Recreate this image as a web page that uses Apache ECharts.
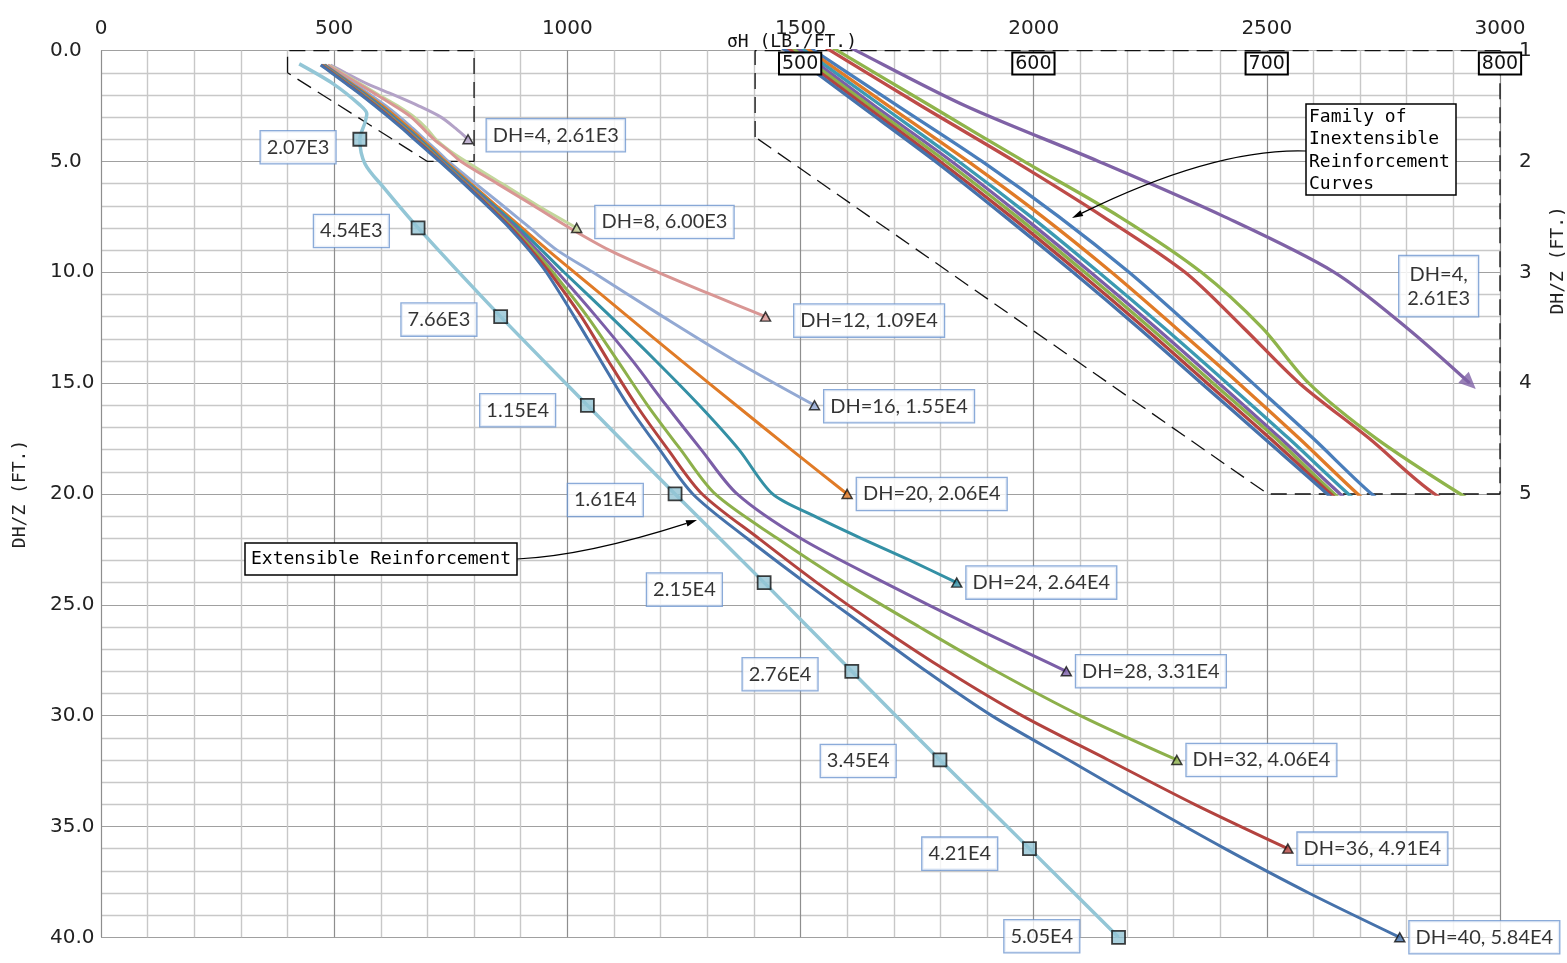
<!DOCTYPE html>
<html><head><meta charset="utf-8">
<script src="https://cdn.jsdelivr.net/npm/echarts@6/dist/echarts.min.js"></script>
<style>html,body{margin:0;padding:0;background:#fff}#c{width:1567px;height:963px}</style>
</head><body><div id="c"></div>
<script>
// ---------- data ----------
const dhValues = [4, 8, 12, 16, 20, 24, 28, 32, 36, 40];
const inextForces = ['2.61E3','6.00E3','1.09E4','1.55E4','2.06E4','2.64E4','3.31E4','4.06E4','4.91E4','5.84E4'];
const extForces = ['2.07E3','4.54E3','7.66E3','1.15E4','1.61E4','2.15E4','2.76E4','3.45E4','4.21E4','5.05E4'];

// inextensible reinforcement curves: depth DH/Z (ft) and sigmaH (lb/ft)
const dh4Depth  = [0.65,1,1.5,2,2.5,3,3.5,4];
const dh4Sigma  = [492,524,571,628,682,729,760,787];
const dh8Depth  = [0.65,1,1.5,2,2.5,3,3.5,4,4.5,5,6,7,8];
const dh8Sigma  = [488,516,556,596,637,672,698,718,747,783,860,937,1020];
const dh12Depth = [0.65,1,1.5,2,2.5,3,3.5,4,4.5,5,6,7,8,9,10,11,12];
const dh12Sigma = [486,513,552,592,630,665,690,714,744,772,850,928,1005,1090,1195,1308,1425];
const dh16Depth = [0.65,1,1.5,2,2.5,3,3.5,4,4.5,5,6,7,8,9,10,12,14,16];
const dh16Sigma = [481,506,542,578,611,641,668,694,720,745,803,862,920,978,1055,1205,1360,1530];
const dh20Depth = [0.65,1,1.5,2,2.5,3,3.5,4,4.5,5,6,7,8,9,10,12,14,16,18,20];
const dh20Sigma = [480,504,538,572,604,633.5,661,688,714,739,793,848,903,958,1015,1130,1245,1362,1480,1600];
const dh24Depth = [0.65,1,1.5,2,2.5,3,3.5,4,4.5,5,6,7,8,9,10,12,14,16,18,20,21,22,23,24];
const dh24Sigma = [479,502,535,568,599,628,656,683,709.5,735,789,843,896,945,993,1093,1190,1283,1368,1440,1530,1630,1735,1835];
const dh28Depth = [0.65,1,1.5,2,2.5,3,3.5,4,4.5,5,6,7,8,9,10,12,14,16,18,20,22,24,26,28];
const dh28Sigma = [477,500,532,565,595.5,624.5,652.5,679.5,706,731.5,785,838,889,935,979,1062,1140,1212,1287,1364,1500,1680,1870,2070];
const dh32Depth = [0.65,1,1.5,2,2.5,3,3.5,4,4.5,5,6,7,8,9,10,12,14,16,18,20,22,24,26,28,30,32];
const dh32Sigma = [475,498,530,562.5,593,622,650,677,704,729,782,834,884,928,969,1043,1108,1172,1243,1317,1450,1595,1755,1920,2100,2307];
const dh36Depth = [0.65,1,1.5,2,2.5,3,3.5,4,4.5,5,6,7,8,9,10,12,14,16,18,20,22,24,26,28,30,32,34,36];
const dh36Sigma = [473,496,528,560,590.5,619.5,647.5,674.5,701.5,727.5,780,831,880,923,962,1030,1088,1148,1216,1289,1410,1535,1670,1815,1975,2160,2345,2545];
const dh40Depth = [0.65,1,1.5,2,2.5,3,3.5,4,4.5,5,6,7,8,9,10,12,14,16,18,20,22,24,26,28,30,32,34,36,38,40];
const dh40Sigma = [471,494,526,558,588,617,645,672,699,726,778,828,876,918,955,1015,1072,1130,1198,1269,1385,1510,1640,1770,1910,2075,2240,2410,2590,2785];

// extensible reinforcement curve
const extUpperSigma = [425, 498, 555, 570, 566];
const extUpperDepth = [0.6, 1.5, 2.45, 2.85, 3.25];
const extBendSigma  = [566, 605];
const extBendDepth  = [5.1, 6.15];
const extSquareSigma = [555, 680, 857, 1043, 1231, 1422, 1610, 1799, 1991, 2182];

// dashed zoom boxes (main grid units / inset grid units)
const mainBoxSigma  = [400, 400, 800, 800, 700, 400];
const mainBoxDepth  = [1, 0, 0, 5, 5, 1];
const insetBoxSigma = [480.7, 480.7, 800, 800, 700.5, 480.7];
const insetBoxDepth = [1.78, 1, 1, 5, 5, 1.78];

// ---------- styles / layout ----------
const mainColors  = ['#B3A2C7','#C3D69B','#D99694','#93A9D3','#E07B27','#3490A5','#7B5EA7','#8DB04B','#B3433F','#4672AB'];
const insetColors = ['#7F62A6','#8FB44B','#BE4B48','#4A7EBB','#E07B27','#3C9AB2','#7B5EA7','#8DB04B','#B3433F','#4672AB'];
const extColor = '#93C6D6';
const endLabelNudge = [[9,-4],[9,-6],[19,4],[0,1],[0,0],[0,0],[0,0],[0,0],[0,0],[0,0]];
const extLabelNudge = [[0,8],[-5,3],[0,3],[-8,5],[-8,6],[-18,7],[-10,3],[-20,1],[-8,5],[-15,-1]];

const curveDepths = [dh4Depth, dh8Depth, dh12Depth, dh16Depth, dh20Depth, dh24Depth, dh28Depth, dh32Depth, dh36Depth, dh40Depth];
const curveSigmas = [dh4Sigma, dh8Sigma, dh12Sigma, dh16Sigma, dh20Sigma, dh24Sigma, dh28Sigma, dh32Sigma, dh36Sigma, dh40Sigma];
const zip = (xs, ys) => xs.map((x, i) => [x, ys[i]]);

const boxLabel = {
  show: true, fontFamily: 'Lato', fontSize: 20, color: '#000', lineHeight: 24,
  backgroundColor: '#fff', borderColor: '#6E96CF', borderWidth: 1.3, padding: [4, 6]
};

const series = [];
// dashed boxes
series.push({ type: 'line', xAxisIndex: 0, yAxisIndex: 0, data: zip(mainBoxSigma, mainBoxDepth),
  symbol: 'none', clip: false, silent: true, z: 2,
  lineStyle: { color: '#111', width: 1.3, type: [16, 8] } });
series.push({ type: 'line', xAxisIndex: 1, yAxisIndex: 1, data: zip(insetBoxSigma, insetBoxDepth),
  symbol: 'none', clip: false, silent: true, z: 2,
  lineStyle: { color: '#111', width: 1.3, type: [16, 8] } });

// extensible curve (main)
const extPath = zip(extUpperSigma, extUpperDepth)
  .concat([[extSquareSigma[0], dhValues[0]]])
  .concat(zip(extBendSigma, extBendDepth))
  .concat(zip(extSquareSigma.slice(1), dhValues.slice(1)));
series.push({ type: 'line', xAxisIndex: 0, yAxisIndex: 0, data: extPath, symbol: 'none',
  smooth: 0.3, lineStyle: { color: extColor, width: 3.5 }, z: 3 });

// inextensible curves main
curveSigmas.forEach((s, i) => {
  series.push({ type: 'line', xAxisIndex: 0, yAxisIndex: 0, data: zip(s, curveDepths[i]),
    symbol: 'none', smooth: 0.3, lineStyle: { color: mainColors[i], width: 3 }, z: 3 });
});

// end triangles with labels
series.push({ type: 'scatter', xAxisIndex: 0, yAxisIndex: 0, z: 5,
  symbol: 'triangle', symbolSize: [10, 9],
  data: curveSigmas.map((s, i) => ({
    value: [s[s.length - 1], curveDepths[i][curveDepths[i].length - 1]],
    itemStyle: { color: mainColors[i], borderColor: '#111', borderWidth: 1.5 },
    label: { offset: endLabelNudge[i] }
  })),
  label: Object.assign({}, boxLabel, { position: 'right', distance: 4,
    formatter: p => 'DH=' + dhValues[p.dataIndex] + ', ' + inextForces[p.dataIndex] })
});

// extensible squares with labels
series.push({ type: 'scatter', xAxisIndex: 0, yAxisIndex: 0, z: 5,
  symbol: 'rect', symbolSize: 13,
  itemStyle: { color: '#93C4D4', borderColor: '#111', borderWidth: 1.8 },
  data: extSquareSigma.map((s, i) => ({ value: [s, dhValues[i]], label: { offset: extLabelNudge[i] } })),
  label: Object.assign({}, boxLabel, { position: 'left', distance: 17,
    formatter: p => extForces[p.dataIndex] })
});

// inset curves
curveSigmas.forEach((s, i) => {
  series.push({ type: 'line', xAxisIndex: 1, yAxisIndex: 1, data: zip(s, curveDepths[i]),
    symbol: 'none', smooth: 0.3, clip: true, lineStyle: { color: insetColors[i], width: 3.3 }, z: 3 });
});
// inset arrow for DH=4
series.push({ type: 'scatter', xAxisIndex: 1, yAxisIndex: 1, z: 5,
  symbol: 'triangle', symbolSize: [15, 17], symbolRotate: -134,
  itemStyle: { color: insetColors[0] },
  data: [[dh4Sigma[dh4Sigma.length - 1], dh4Depth[dh4Depth.length - 1]]],
  label: Object.assign({}, boxLabel, { position: 'inside', offset: [-31, -97], padding: [6, 8], align: 'center',
    formatter: () => 'DH=' + dhValues[0] + ',\n' + inextForces[0] })
});

// ---------- annotations ----------
function arrow(x1, y1, cx, cy, x2, y2) {
  const dx = x2 - cx, dy = y2 - cy, L = Math.hypot(dx, dy), ux = dx / L, uy = dy / L;
  const len = 11, hw = 3.2;
  const bx = x2 - ux * len, by = y2 - uy * len;
  return [
    { type: 'bezierCurve', z: 20, shape: { x1: x1, y1: y1, x2: bx, y2: by, cpx1: cx, cpy1: cy },
      style: { stroke: '#000', lineWidth: 1.2, fill: 'none' } },
    { type: 'polygon', z: 20, shape: { points: [[x2, y2], [bx - uy * hw, by + ux * hw], [bx + uy * hw, by - ux * hw]] },
      style: { fill: '#000' } }
  ];
}
const graphic = [].concat(
  [
    { type: 'rect', z: 20, shape: { x: 1306, y: 104, width: 150, height: 91 }, style: { fill: '#fff', stroke: '#000', lineWidth: 1.5 } },
    { type: 'text', z: 21, x: 1309, y: 106, style: { text: 'Family of\nInextensible\nReinforcement\nCurves', fontFamily: 'DejaVu Sans Mono', fontSize: 18, lineHeight: 22.5, fill: '#000' } },
    { type: 'rect', z: 20, shape: { x: 245, y: 543, width: 272, height: 32 }, style: { fill: '#fff', stroke: '#000', lineWidth: 1.5 } },
    { type: 'text', z: 21, x: 381, y: 559, style: { text: 'Extensible Reinforcement', fontFamily: 'DejaVu Sans Mono', fontSize: 18, fill: '#000', align: 'center', verticalAlign: 'middle' } },
    { type: 'text', z: 21, x: 792, y: 42, style: { text: 'σH (LB./FT.)', fontFamily: 'DejaVu Sans Mono', fontSize: 18, fill: '#111', align: 'center', verticalAlign: 'middle' } }
  ],
  arrow(1306, 151, 1215, 148, 1072, 218),
  arrow(517, 559, 585, 556, 697, 520)
);

const axisFont = { fontFamily: 'DejaVu Sans', fontSize: 20, color: '#222' };
const option = {
  animation: false,
  backgroundColor: '#fff',
  grid: [
    { left: 101, top: 50.6, width: 1399, height: 886.7, containLabel: false, outerBoundsMode: 'none' },
    { left: 566.83, top: 50.6, width: 933.17, height: 443.4, containLabel: false, outerBoundsMode: 'none' }
  ],
  xAxis: [
    { gridIndex: 0, type: 'value', position: 'top', min: 0, max: 3000, interval: 500,
      axisLine: { show: false }, axisTick: { show: false },
      axisLabel: Object.assign({ margin: 12, formatter: v => String(v) }, axisFont),
      splitLine: { show: true, lineStyle: { color: '#8e8e8e', width: 1.2 } },
      minorTick: { show: false, splitNumber: 5 },
      minorSplitLine: { show: true, lineStyle: { color: '#c8c8c8', width: 1.4 } } },
    { gridIndex: 1, type: 'value', position: 'top', min: 400, max: 800, interval: 100, z: 10,
      axisLine: { show: false }, axisTick: { show: false }, splitLine: { show: false },
      axisLabel: { inside: true, margin: 3, showMinLabel: false, showMaxLabel: true, formatter: v => String(v),
        fontFamily: 'DejaVu Sans', fontSize: 19, color: '#111', lineHeight: 20,
        backgroundColor: '#fff', borderColor: '#000', borderWidth: 2, padding: [0, 2, 0, 2] } }
  ],
  yAxis: [
    { gridIndex: 0, type: 'value', inverse: true, min: 0, max: 40, interval: 5,
      name: 'DH/Z (FT.)', nameLocation: 'middle', nameGap: 72, nameRotate: 90,
      nameTextStyle: { fontFamily: 'DejaVu Sans Mono', fontSize: 18, color: '#222' },
      axisLine: { show: false }, axisTick: { show: false },
      axisLabel: Object.assign({ margin: 51, align: 'left', formatter: v => v.toFixed(1) }, axisFont),
      splitLine: { show: true, lineStyle: { color: '#a0a0a0', width: 1.2 } },
      minorTick: { show: false, splitNumber: 5 },
      minorSplitLine: { show: true, lineStyle: { color: '#c8c8c8', width: 1.4 } } },
    { gridIndex: 1, type: 'value', position: 'right', inverse: true, min: 1, max: 5, interval: 1,
      name: 'DH/Z (FT.)', nameLocation: 'middle', nameGap: 49, nameRotate: 90,
      nameTextStyle: { fontFamily: 'DejaVu Sans Mono', fontSize: 18, color: '#222', padding: [0, 0, 0, 24] },
      axisLine: { show: false }, axisTick: { show: false }, splitLine: { show: false },
      axisLabel: Object.assign({ margin: 19 }, axisFont) }
  ],
  series: series,
  graphic: graphic
};
const chart = echarts.init(document.getElementById('c'));
chart.setOption(option);
</script>
</body></html>
